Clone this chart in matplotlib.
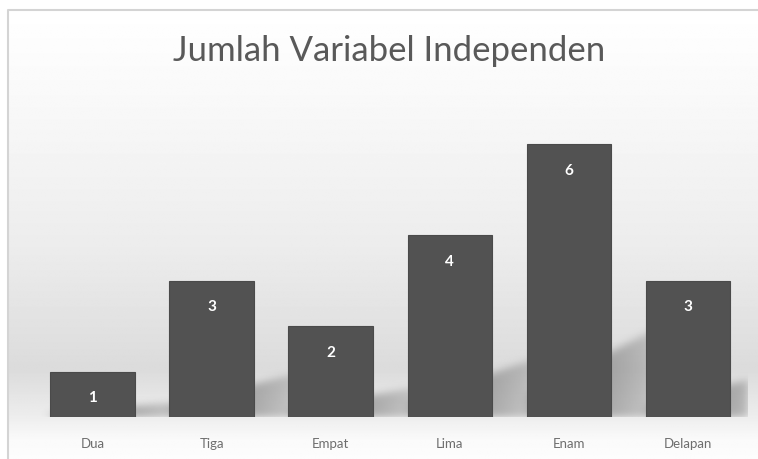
import numpy as np
import matplotlib
matplotlib.use("Agg")
import matplotlib.pyplot as plt

categories = ["Dua", "Tiga", "Empat", "Lima", "Enam", "Delapan"]
values = [1, 3, 2, 4, 6, 3]
title = "Jumlah Variabel Independen"

W, H = 758, 459
fig = plt.figure(figsize=(W / 100, H / 100), dpi=100)
fig.patch.set_facecolor("white")
plt.rcParams['font.family'] = ['Lato', 'DejaVu Sans']

# background frame with vertical gradient
bx0, by0 = 8, 10
ax_bg = fig.add_axes([bx0 / W, 0, 1 - bx0 / W, 1 - by0 / H])
ax_bg.set_axis_off()
ypix = np.linspace(by0, H, 300)
stops_y = [10, 100, 250, 370, 417, 440, 459]
stops_v = [1.0, 0.975, 0.925, 0.86, 0.93, 0.98, 0.99]
g = np.interp(ypix, stops_y, stops_v)
img = np.repeat(g[:, None], 4, axis=1)
ax_bg.imshow(img, cmap="gray", vmin=0, vmax=1, aspect="auto", extent=[0, 1, 0, 1], interpolation="bilinear")
ax_bg.set_xlim(0, 1); ax_bg.set_ylim(0, 1)
ax_bg.plot([0, 0, 1], [0, 1, 1], color="#d4d4d4", lw=1.5, transform=ax_bg.transAxes, clip_on=False)

# main axes
x_left, x_right = 33, 747.5
y_base, y_top = 417, 99
ax = fig.add_axes([x_left / W, (H - y_base) / H, (x_right - x_left) / W, (y_base - y_top) / H])
ax.patch.set_alpha(0)
ax.set_xlim(-0.5, len(categories) - 0.5)
ax.set_ylim(0, 7)

x = np.arange(len(categories))
bw = 0.71

# blurred perspective shadows computed from the values
nx, ny = 900, 500
xs = np.linspace(-0.5, len(categories) - 0.5, nx)
ys = np.linspace(0, 7, ny)
XX, YY = np.meshgrid(xs, ys)
mask = np.zeros_like(XX)
d = 0.36
for xi, v in zip(x, values):
    xr = xi + bw / 2
    xl = xi - bw / 2
    t = np.clip((XX - xl) / (xr + d - xl), 0, 1)
    top = v * (0.08 + 0.24 * t)
    inside = (XX >= xl) & (XX <= xr + d) & (YY <= top)
    fade = np.where(XX > xr, 1 - 0.45 * (XX - xr) / d, 1.0)
    mask = np.maximum(mask, inside * fade)

def blur1d(a, sigma, axis):
    r = int(3 * sigma) + 1
    k = np.exp(-0.5 * (np.arange(-r, r + 1) / sigma) ** 2)
    k /= k.sum()
    return np.apply_along_axis(lambda m: np.convolve(m, k, mode="same"), axis, a)

mask = blur1d(mask, 6, 1)
mask = blur1d(mask, 6, 0)
rgba = np.zeros((ny, nx, 4))
rgba[..., :3] = 0.42
rgba[..., 3] = mask * 0.5
ax.imshow(rgba, origin="lower", extent=[-0.5, len(categories) - 0.5, 0, 7], aspect="auto", zorder=1, interpolation="bilinear")

bars = ax.bar(x, values, width=bw, color="#525252", edgecolor="#4a4a4a", linewidth=0.8, zorder=3)
for xi, v in zip(x, values):
    ax.annotate(str(v), (xi, v), xytext=(0, -19), textcoords="offset points",
                ha="center", va="center", color="white", fontsize=11, fontweight="bold", zorder=4)

ax.set_xticks(x)
ax.set_xticklabels(categories, color="#6e6e6e", fontsize=9.5)
ax.tick_params(axis="x", length=0, pad=15)
ax.set_yticks([])
for s in ax.spines.values():
    s.set_visible(False)

fig.text(389 / W, 1 - 51 / H, title, ha="center", va="center", fontsize=25, color="#595959")

fig.savefig("out.png", dpi=100)
